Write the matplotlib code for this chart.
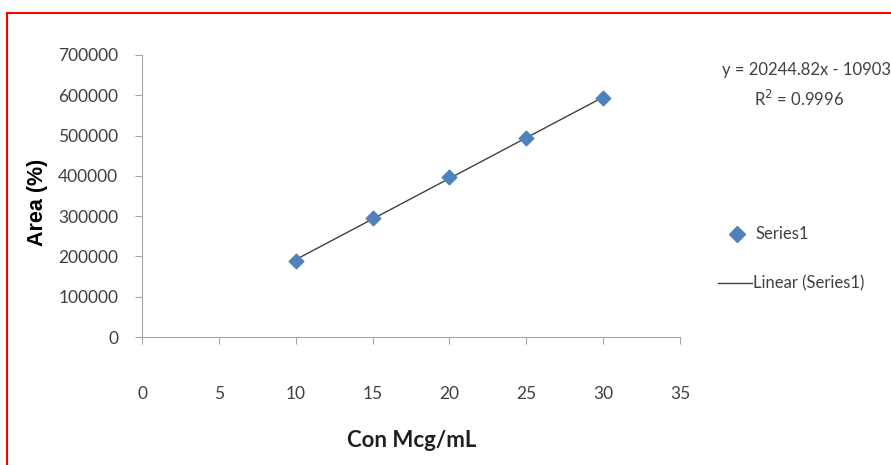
import matplotlib.pyplot as plt
from matplotlib.lines import Line2D
import numpy as np

conc = [10, 15, 20, 25, 30]
area = [188600, 295400, 397200, 494000, 593300]
x_ticks = [0, 5, 10, 15, 20, 25, 30, 35]
y_ticks = [0, 100000, 200000, 300000, 400000, 500000, 600000, 700000]

plt.rcParams["font.family"] = ["Lato", "DejaVu Sans"]

W, H = 891, 465
fig = plt.figure(figsize=(W / 100, H / 100), dpi=100)
ax = fig.add_axes([142 / W, 1 - 337 / H, (680 - 142) / W, (337 - 55) / H])

ax.scatter(conc, area, marker="D", s=55, color="#4F81BD", zorder=3)
slope, icpt = np.polyfit(conc, area, 1)
xs = np.array([conc[0], conc[-1]])
ax.plot(xs, slope * xs + icpt, color="#404040", lw=1.0, zorder=2)

ax.set_xlim(0, 35)
ax.set_ylim(0, 700000)
ax.set_xticks(x_ticks)
ax.set_yticks(y_ticks)
ax.set_xticklabels([str(v) for v in x_ticks])
ax.set_yticklabels([str(v) for v in y_ticks])
for s in ["top", "right"]:
    ax.spines[s].set_visible(False)
for s in ["left", "bottom"]:
    ax.spines[s].set_color("#a6a6a6")
ax.tick_params(axis="x", colors="#a6a6a6", labelcolor="#404040", length=5,
               direction="out", pad=30, labelsize=12.5)
ax.tick_params(axis="y", colors="#a6a6a6", labelcolor="#404040", length=5,
               direction="out", pad=12, labelsize=12.5)

fig.text(38 / W, 1 - 202 / H, "Area (%)", rotation=90, ha="center", va="center",
         fontsize=15.5, fontweight="bold", family=["Liberation Sans", "DejaVu Sans"])
fig.text(412 / W, 1 - 440 / H, "Con Mcg/mL", ha="center", va="center",
         fontsize=16, fontweight="bold", color="#202020")

fig.text(722 / W, 1 - 70 / H, "y = 20244.82x - 10903", ha="left", va="center",
         fontsize=12, color="#404040")
fig.text(799 / W, 1 - 99 / H, "R$^2$ = 0.9996", ha="center", va="center",
         fontsize=12, color="#404040")

# legend
fig.add_artist(Line2D([737 / W], [1 - 234 / H], marker="D", markersize=8,
                      color="#4F81BD", linestyle="none"))
fig.text(755 / W, 1 - 234 / H, "Series1", ha="left", va="center",
         fontsize=12, color="#404040")
fig.add_artist(Line2D([718 / W, 752 / W], [1 - 283 / H, 1 - 283 / H],
                      color="#404040", lw=1.0))
fig.text(753 / W, 1 - 283 / H, "Linear (Series1)", ha="left", va="center",
         fontsize=12, color="#404040")

# red frame (clipped at right and bottom)
fig.add_artist(Line2D([7 / W, 7 / W], [0, 1 - 13 / H], color="red", lw=1.5))
fig.add_artist(Line2D([7 / W, 1], [1 - 13 / H, 1 - 13 / H], color="red", lw=1.5))

fig.savefig("out.png", dpi=100)
